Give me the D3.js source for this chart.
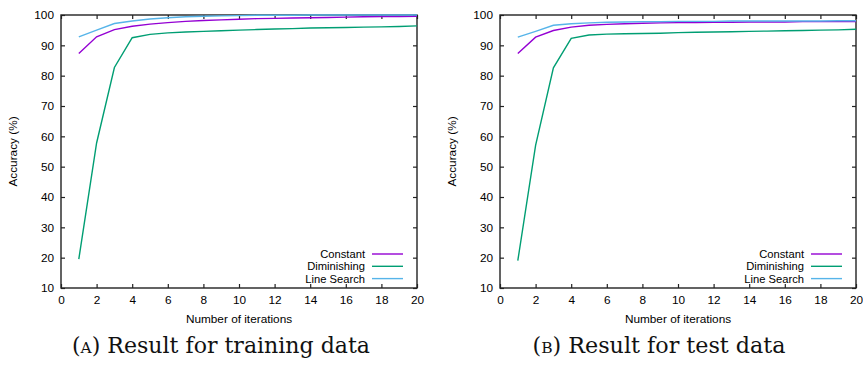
<!DOCTYPE html>
<html>
<head>
<meta charset="utf-8">
<script src="https://cdn.jsdelivr.net/npm/d3@7"></script>
<style>
  html, body { margin: 0; padding: 0; background: #fff; }
  svg { display: block; }
</style>
</head>
<body>
<svg id="chart" width="863" height="366"></svg>
<script>
const iterations = [1,2,3,4,5,6,7,8,9,10,11,12,13,14,15,16,17,18,19,20];
const seriesNames = ["Constant", "Diminishing", "Line Search"];
const trainConstant    = [87.3, 92.8, 95.2, 96.3, 97.0, 97.5, 97.9, 98.2, 98.4, 98.6, 98.8, 98.9, 99.0, 99.1, 99.2, 99.3, 99.4, 99.5, 99.5, 99.6];
const trainDiminishing = [19.5, 57.8, 82.7, 92.5, 93.6, 94.1, 94.4, 94.6, 94.8, 95.0, 95.2, 95.4, 95.5, 95.7, 95.8, 95.9, 96.0, 96.1, 96.2, 96.4];
const trainLineSearch  = [92.8, 95.0, 97.2, 98.0, 98.7, 99.1, 99.4, 99.6, 99.7, 99.8, 99.9, 99.9, 99.9, 100, 100, 100, 100, 100, 100, 100];
const testConstant     = [87.3, 92.7, 94.9, 96.0, 96.6, 96.9, 97.1, 97.3, 97.4, 97.5, 97.5, 97.6, 97.6, 97.7, 97.7, 97.7, 97.8, 97.8, 97.8, 97.8];
const testDiminishing  = [19.0, 57.0, 82.6, 92.3, 93.4, 93.7, 93.8, 93.9, 94.0, 94.2, 94.3, 94.4, 94.5, 94.6, 94.7, 94.8, 94.9, 95.0, 95.1, 95.3];
const testLineSearch   = [92.7, 94.6, 96.6, 97.1, 97.4, 97.6, 97.7, 97.8, 97.8, 97.9, 97.9, 97.9, 98.0, 98.0, 98.0, 98.0, 98.0, 98.0, 98.1, 98.1];
const xTicks = [0,2,4,6,8,10,12,14,16,18,20];
const yTicks = [10,20,30,40,50,60,70,80,90,100];
const xTitle = "Number of iterations";
const yTitle = "Accuracy (%)";
const captionLetters = ["a", "b"];
const captionTexts = ["Result for training data", "Result for test data"];
const colors = ["#9400d3", "#009e73", "#56b4e9"];

const svg = d3.select("#chart");
const font = "'Liberation Sans', Arial, sans-serif";

const panels = [
  {x0: 61, x1: 417, data: [trainConstant, trainDiminishing, trainLineSearch], capX: 221, capW: 298},
  {x0: 500, x1: 856, data: [testConstant, testDiminishing, testLineSearch], capX: 659, capW: 253}
];
const yTop = 15, yBot = 288;

panels.forEach((p, pi) => {
  const g = svg.append("g");
  const x = d3.scaleLinear().domain([0, 20]).range([p.x0, p.x1]);
  const y = d3.scaleLinear().domain([10, 100]).range([yBot, yTop]);

  const ax = g.append("g").attr("transform", `translate(0,${yBot})`)
    .call(d3.axisBottom(x).tickValues(xTicks).tickSize(-4).tickPadding(8).tickFormat(d3.format("d")));
  const ay = g.append("g").attr("transform", `translate(${p.x0},0)`)
    .call(d3.axisLeft(y).tickValues(yTicks).tickSize(-4).tickPadding(7).tickFormat(d3.format("d")));
  const axT = g.append("g").attr("transform", `translate(0,${yTop})`)
    .call(d3.axisTop(x).tickValues(xTicks).tickSize(-4).tickFormat(""));
  const ayR = g.append("g").attr("transform", `translate(${p.x1},0)`)
    .call(d3.axisRight(y).tickValues(yTicks).tickSize(-4).tickFormat(""));
  [ax, ay, axT, ayR].forEach(a => {
    a.select(".domain").remove();
    a.selectAll(".tick line").attr("stroke", "#222").attr("stroke-width", 1.2);
    a.selectAll("text").attr("font-family", font).attr("font-size", 11.8).attr("fill", "#000");
  });

  g.append("rect").attr("x", p.x0).attr("y", yTop)
    .attr("width", p.x1 - p.x0).attr("height", yBot - yTop)
    .attr("fill", "none").attr("stroke", "#222").attr("stroke-width", 1.4);

  const line = d3.line().x((d, i) => x(iterations[i])).y(d => y(d));
  p.data.forEach((s, k) => {
    g.append("path").datum(s).attr("d", line)
      .attr("fill", "none").attr("stroke", colors[k]).attr("stroke-width", 1.4);
  });

  const legRight = p.x0 + (365 - 61);
  const legY = [254, 266.3, 278.6];
  seriesNames.forEach((n, k) => {
    g.append("text").attr("x", legRight).attr("y", legY[k] + 4)
      .attr("text-anchor", "end").attr("font-family", font).attr("font-size", 11.2).text(n);
    g.append("line").attr("x1", legRight + 7).attr("x2", legRight + 38)
      .attr("y1", legY[k]).attr("y2", legY[k])
      .attr("stroke", colors[k]).attr("stroke-width", 1.4);
  });

  g.append("text").attr("x", (p.x0 + p.x1) / 2).attr("y", 323)
    .attr("text-anchor", "middle").attr("font-family", font).attr("font-size", 11.8).text(xTitle);
  g.append("text").attr("transform", `translate(${p.x0 - 44},${(yTop + yBot) / 2}) rotate(-90)`)
    .attr("text-anchor", "middle").attr("font-family", font).attr("font-size", 11.8).text(yTitle);

  const cap = g.append("text").attr("x", p.capX).attr("y", 353)
    .attr("text-anchor", "middle").attr("font-family", "'DejaVu Serif', serif")
    .attr("font-size", 21.5).attr("fill", "#111")
    .attr("textLength", p.capW).attr("lengthAdjust", "spacingAndGlyphs");
  cap.append("tspan").text("(");
  cap.append("tspan").style("font-variant", "small-caps").text(captionLetters[pi]);
  cap.append("tspan").text(") " + captionTexts[pi]);
});
</script>
</body>
</html>
